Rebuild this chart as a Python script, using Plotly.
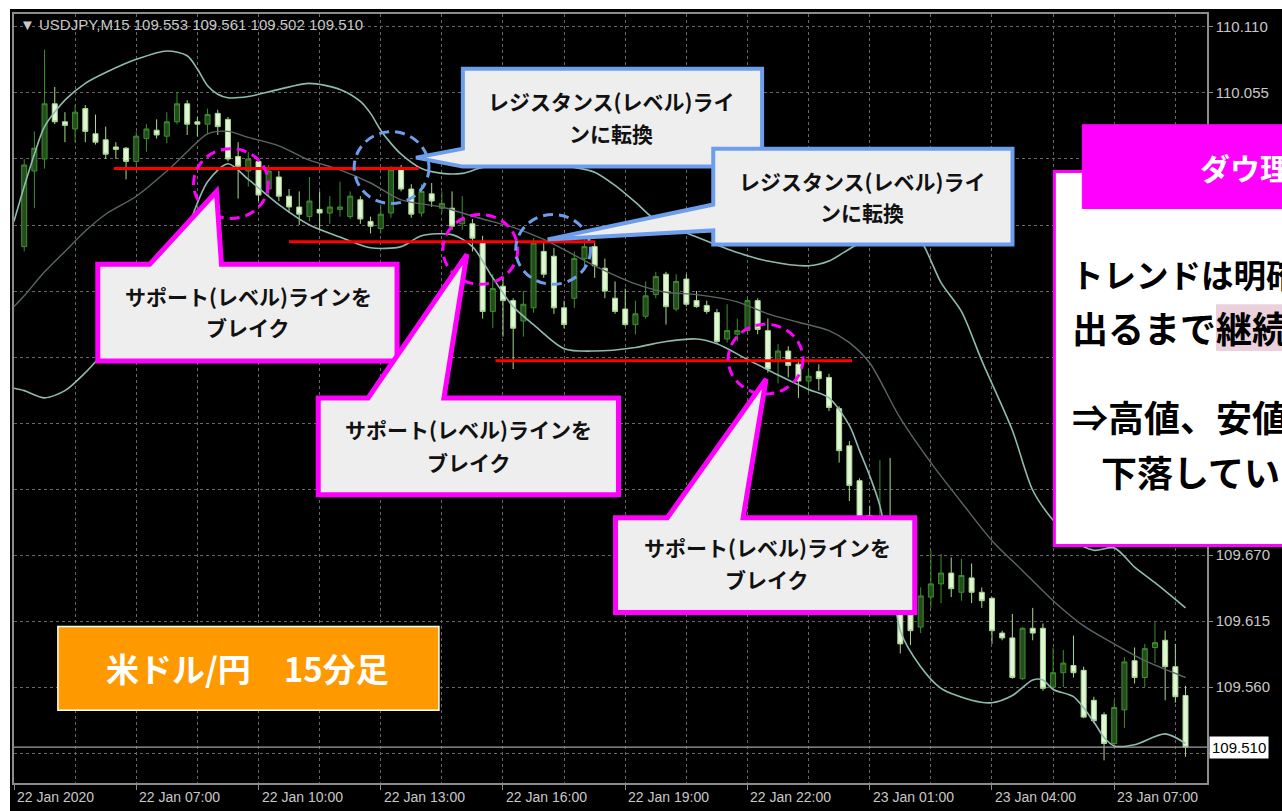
import numpy as np
import pandas as pd
import plotly.graph_objects as go

# ---------------- data ----------------
start = "2020-01-22 04:15"

opens = [109.927, 109.990, 110.000, 110.046, 110.031, 110.025, 110.042, 110.021, 110.016, 110.010,
         110.009, 109.998, 110.017, 110.024, 110.019, 110.031, 110.046, 110.031, 110.029, 110.038,
         110.033, 110.002, 109.990, 109.998, 109.975, 109.985, 109.969, 109.960, 109.952, 109.958,
         109.955, 109.958, 109.952, 109.966, 109.948, 109.942, 109.955, 109.991, 109.975, 109.955,
         109.971, 109.959, 109.959, 109.946, 109.946, 109.931, 109.873, 109.894, 109.882, 109.865,
         109.876, 109.923, 109.919, 109.876, 109.884, 109.917, 109.927, 109.909, 109.884, 109.875,
         109.862, 109.869, 109.887, 109.904, 109.875, 109.900, 109.882, 109.878, 109.872, 109.850,
         109.854, 109.857, 109.882, 109.857, 109.832, 109.840, 109.829, 109.815, 109.823, 109.818,
         109.792, 109.761, 109.732, 109.703, 109.653, 109.670, 109.621, 109.620, 109.610, 109.635,
         109.646, 109.655, 109.639, 109.651, 109.639, 109.634, 109.605, 109.601, 109.567, 109.609,
         109.609, 109.560, 109.572, 109.578, 109.574, 109.549, 109.537, 109.513, 109.541, 109.582,
         109.568, 109.593, 109.599, 109.577, 109.553]
highs = [110.000, 110.023, 110.091, 110.060, 110.039, 110.045, 110.045, 110.037, 110.027, 110.014,
         110.010, 110.023, 110.029, 110.033, 110.039, 110.056, 110.049, 110.035, 110.042, 110.041,
         110.035, 110.014, 110.006, 110.000, 109.995, 109.990, 109.975, 109.973, 109.985, 109.973,
         109.969, 109.981, 109.973, 109.969, 109.952, 109.962, 109.994, 109.995, 109.979, 109.979,
         109.980, 109.973, 109.973, 109.969, 109.950, 109.936, 109.904, 109.902, 109.884, 109.890,
         109.934, 109.931, 109.926, 109.882, 109.923, 109.933, 109.931, 109.917, 109.898, 109.892,
         109.882, 109.898, 109.906, 109.906, 109.904, 109.904, 109.890, 109.882, 109.875, 109.879,
         109.867, 109.884, 109.884, 109.867, 109.846, 109.844, 109.833, 109.825, 109.829, 109.821,
         109.794, 109.765, 109.734, 109.711, 109.749, 109.751, 109.626, 109.624, 109.643, 109.674,
         109.671, 109.668, 109.667, 109.663, 109.643, 109.635, 109.607, 109.621, 109.610, 109.626,
         109.613, 109.593, 109.591, 109.603, 109.577, 109.552, 109.539, 109.549, 109.585, 109.593,
         109.596, 109.614, 109.607, 109.596, 109.561]
lows = [109.923, 109.959, 109.992, 110.029, 110.014, 110.014, 110.014, 110.012, 110.000, 110.000,
        109.983, 109.995, 110.006, 110.017, 110.013, 110.029, 110.020, 110.019, 110.021, 110.020,
        109.998, 109.967, 109.977, 109.965, 109.969, 109.965, 109.955, 109.945, 109.948, 109.941,
        109.946, 109.952, 109.950, 109.946, 109.938, 109.938, 109.951, 109.973, 109.951, 109.952,
        109.960, 109.955, 109.941, 109.941, 109.923, 109.867, 109.859, 109.852, 109.825, 109.852,
        109.872, 109.901, 109.871, 109.859, 109.876, 109.909, 109.901, 109.884, 109.871, 109.861,
        109.854, 109.867, 109.884, 109.862, 109.873, 109.877, 109.876, 109.871, 109.846, 109.847,
        109.848, 109.854, 109.854, 109.822, 109.813, 109.818, 109.801, 109.805, 109.807, 109.790,
        109.747, 109.715, 109.695, 109.653, 109.641, 109.620, 109.588, 109.595, 109.605, 109.626,
        109.630, 109.635, 109.632, 109.630, 109.626, 109.596, 109.599, 109.567, 109.566, 109.599,
        109.557, 109.559, 109.560, 109.568, 109.534, 109.530, 109.499, 109.510, 109.526, 109.563,
        109.560, 109.580, 109.549, 109.547, 109.502]
closes = [109.995, 110.009, 110.046, 110.031, 110.028, 110.039, 110.023, 110.014, 110.004, 110.008,
          109.998, 110.019, 110.025, 110.020, 110.031, 110.046, 110.029, 110.029, 110.037, 110.027,
          110.000, 109.994, 110.000, 109.970, 109.990, 109.969, 109.960, 109.954, 109.965, 109.955,
          109.960, 109.960, 109.969, 109.950, 109.944, 109.954, 109.991, 109.975, 109.954, 109.973,
          109.965, 109.963, 109.944, 109.950, 109.934, 109.873, 109.892, 109.882, 109.859, 109.879,
          109.930, 109.904, 109.876, 109.862, 109.917, 109.927, 109.911, 109.890, 109.873, 109.862,
          109.871, 109.886, 109.902, 109.877, 109.898, 109.879, 109.877, 109.873, 109.848, 109.857,
          109.857, 109.882, 109.858, 109.825, 109.840, 109.828, 109.815, 109.819, 109.817, 109.793,
          109.757, 109.728, 109.699, 109.661, 109.670, 109.624, 109.596, 109.607, 109.636, 109.646,
          109.655, 109.642, 109.653, 109.639, 109.632, 109.607, 109.601, 109.568, 109.609, 109.605,
          109.559, 109.572, 109.580, 109.572, 109.535, 109.532, 109.513, 109.543, 109.581, 109.568,
          109.592, 109.597, 109.577, 109.552, 109.510]

# Bollinger bands, sampled at bar numbers (0 = first bar)
upper_bars = [-1, 0, 1, 2, 4, 6, 8, 11, 14, 16, 17, 18, 19, 20, 22, 25, 28, 31, 33, 34,
              35, 36, 37, 39, 41, 43, 45, 48, 51, 54, 56, 58, 60, 62, 66, 70, 73, 77, 79, 81,
              83, 85, 86, 88, 90, 92, 94, 97, 99, 101, 103, 105, 107, 109, 111, 114]
upper_vals = [109.948, 109.977, 110.004, 110.027, 110.049, 110.063, 110.072, 110.083, 110.090, 110.086,
              110.075, 110.061, 110.054, 110.051, 110.052, 110.058, 110.063, 110.058, 110.048, 110.038,
              110.024, 110.013, 110.004, 109.992, 109.988, 109.988, 109.993, 109.995, 109.996, 109.993,
              109.989, 109.978, 109.964, 109.949, 109.935, 109.922, 109.915, 109.911, 109.915, 109.925,
              109.935, 109.944, 109.946, 109.932, 109.897, 109.873, 109.832, 109.774, 109.724, 109.699,
              109.682, 109.674, 109.676, 109.660, 109.647, 109.626]
middle_bars = [-1, 0, 2, 4, 6, 8, 11, 14, 16, 18, 20, 22, 25, 28, 31, 34, 37, 41, 43, 45,
               48, 51, 54, 56, 60, 63, 66, 70, 73, 76, 79, 81, 83, 86, 89, 92, 95, 98, 101, 104,
               107, 110, 114]
middle_vals = [109.877, 109.886, 109.906, 109.923, 109.940, 109.954, 109.969, 109.990, 110.006, 110.021,
               110.023, 110.018, 110.011, 109.999, 109.991, 109.980, 109.966, 109.960, 109.955, 109.950,
               109.943, 109.933, 109.920, 109.911, 109.896, 109.889, 109.887, 109.881, 109.871, 109.864,
               109.857, 109.847, 109.830, 109.784, 109.747, 109.714, 109.682, 109.657, 109.632, 109.611,
               109.596, 109.582, 109.568]
lower_bars = [-1, 0, 2, 4, 6, 8, 11, 14, 16, 18, 20, 22, 25, 28, 31, 34, 37, 39, 42, 44,
              46, 48, 50, 53, 56, 60, 63, 66, 68, 71, 74, 77, 79, 81, 82, 83, 84, 85, 86, 88,
              90, 93, 95, 97, 99, 100, 101, 103, 105, 106, 107, 109, 112, 114]
lower_vals = [109.809, 109.807, 109.801, 109.807, 109.822, 109.840, 109.861, 109.894, 109.941, 109.981,
              109.996, 109.983, 109.962, 109.945, 109.935, 109.926, 109.927, 109.936, 109.937, 109.927,
              109.901, 109.877, 109.862, 109.842, 109.840, 109.843, 109.848, 109.850, 109.846, 109.833,
              109.820, 109.808, 109.801, 109.778, 109.757, 109.736, 109.711, 109.665, 109.607, 109.577,
              109.559, 109.549, 109.547, 109.553, 109.566, 109.566, 109.558, 109.552, 109.531, 109.518,
              109.511, 109.512, 109.521, 109.513]

# support / resistance levels (red lines)
level_prices = [109.992, 109.931, 109.832]
level_starts = ["2020-01-22 06:27", "2020-01-22 10:45", "2020-01-22 15:49"]
level_ends = ["2020-01-22 13:56", "2020-01-22 18:16", "2020-01-23 00:34"]

price_ticks = [110.110, 110.055, 110.000, 109.945, 109.890, 109.835, 109.780,
               109.725, 109.670, 109.615, 109.560, 109.505]
# labels hidden behind the right-hand panel / current-price box in the reference
price_labels = ["110.110", "110.055", "", "", "", "", "", "", "109.670", "109.615", "109.560", ""]
time_ticks = ["2020-01-22 04:00", "2020-01-22 07:00", "2020-01-22 10:00", "2020-01-22 13:00",
              "2020-01-22 16:00", "2020-01-22 19:00", "2020-01-22 22:00", "2020-01-23 01:00",
              "2020-01-23 04:00", "2020-01-23 07:00"]
time_labels = ["22 Jan 2020", "22 Jan 07:00", "22 Jan 10:00", "22 Jan 13:00", "22 Jan 16:00",
               "22 Jan 19:00", "22 Jan 22:00", "23 Jan 01:00", "23 Jan 04:00", "23 Jan 07:00"]
symbol = "USDJPY,M15"

callout_resist = ["レジスタンス(レベル)ライ", "ンに転換"]
callout_support = ["サポート(レベル)ラインを", "ブレイク"]
pair_label = "米ドル/円　15分足"
panel_title = "ダウ理"
panel_lines = ["トレンドは明確", "出るまで継続", "⇒高値、安値", "下落してい"]

# ---------------- figure geometry ----------------
W, H = 1282, 811
ML, MR, MT, MB = 12, 74, 12, 28
PW, PH = W - ML - MR, H - MT - MB


def px(x):
    return (x - ML) / PW


def py(y):
    return (H - MB - y) / PH


t0 = pd.Timestamp(start)
times = pd.date_range(start, periods=len(opens), freq="15min")


def bar_times(bars):
    return [t0 + pd.Timedelta(minutes=15 * b) for b in bars]


JP = "Noto Sans CJK JP"
LAT = "Liberation Sans, Arial, sans-serif"
GRID = "#666666"
FRAME = "#8c8c8c"
MAG = "#ff00ff"
BLUE = "#6d9eeb"

fig = go.Figure()

fig.add_trace(go.Candlestick(
    x=times, open=opens, high=highs, low=lows, close=closes,
    increasing=dict(line=dict(color="#3f8f30", width=1), fillcolor="#234d1b"),
    decreasing=dict(line=dict(color="#a9d992", width=1), fillcolor="#e2f6d6"),
    whiskerwidth=0, hoverinfo="skip", showlegend=False,
))

band_style = dict(mode="lines", hoverinfo="skip", showlegend=False)
fig.add_trace(go.Scatter(x=bar_times(upper_bars), y=upper_vals,
                         line=dict(color="#8fbab2", width=1.6, shape="spline", smoothing=0.8), **band_style))
fig.add_trace(go.Scatter(x=bar_times(middle_bars), y=middle_vals,
                         line=dict(color="#5b6664", width=1.4, shape="spline", smoothing=0.8), **band_style))
fig.add_trace(go.Scatter(x=bar_times(lower_bars), y=lower_vals,
                         line=dict(color="#8fbab2", width=1.6, shape="spline", smoothing=0.8), **band_style))

shapes = []
# bid line
shapes.append(dict(type="line", xref="paper", yref="y", x0=0, x1=1,
                   y0=closes[-1], y1=closes[-1], line=dict(color="#a0a0a0", width=1.3), layer="above"))
# red level lines
for p, a, b in zip(level_prices, level_starts, level_ends):
    shapes.append(dict(type="line", xref="x", yref="y", x0=a, x1=b, y0=p, y1=p,
                       line=dict(color="#ff0000", width=3), layer="above"))

# dashed circles
circles = [((192, 147, 267, 217), MAG), ((353, 130, 428, 202), BLUE),
           ((442, 213, 517, 283), MAG), ((515, 213, 590, 283), BLUE),
           ((728, 323, 803, 393), MAG)]
for (x0, y0, x1, y1), col in circles:
    shapes.append(dict(type="circle", xref="paper", yref="paper",
                       x0=px(x0), x1=px(x1), y0=py(y1), y1=py(y0),
                       line=dict(color=col, width=3, dash="10px,6px"), layer="above"))


def path(points):
    s = "M " + " L ".join(f"{px(x):.5f},{py(y):.5f}" for x, y in points) + " Z"
    return s


callouts = [
    ([(462, 67), (762, 67), (762, 165), (462, 165), (415, 156), (462, 147)], BLUE, 4),
    ([(713, 147), (1013, 147), (1013, 243), (713, 243), (713, 229), (547, 238), (713, 203)], BLUE, 4),
    ([(96, 263), (148, 263), (215, 190), (220, 263), (396, 263), (396, 360), (96, 360)], MAG, 5),
    ([(317, 397), (367, 397), (466, 253), (443, 397), (618, 397), (618, 494), (317, 494)], MAG, 5),
    ([(615, 517), (667, 517), (766, 378), (743, 517), (915, 517), (915, 612), (615, 612)], MAG, 5),
]
for pts, col, lw in callouts:
    shapes.append(dict(type="path", xref="paper", yref="paper", path=path(pts),
                       fillcolor="#eeeeee", line=dict(color=col, width=lw), layer="above"))

# orange label box
shapes.append(dict(type="rect", xref="paper", yref="paper", x0=px(56), x1=px(438), y0=py(710), y1=py(626),
                   fillcolor="#ff9900", line=dict(color="white", width=1.5), layer="above"))
# right panel
shapes.append(dict(type="rect", xref="paper", yref="paper", x0=px(1055), x1=px(1300), y0=py(545), y1=py(170),
                   fillcolor="white", line=dict(color=MAG, width=3), layer="above"))
shapes.append(dict(type="rect", xref="paper", yref="paper", x0=px(1083), x1=px(1300), y0=py(207), y1=py(123),
                   fillcolor=MAG, line=dict(color=MAG, width=1), layer="above"))
shapes.append(dict(type="rect", xref="paper", yref="paper", x0=px(1217), x1=px(1300), y0=py(350), y1=py(303),
                   fillcolor="#ead1dc", line=dict(width=0), layer="above"))
# white outer strips
shapes.append(dict(type="rect", xref="paper", yref="paper", x0=px(-5), x1=px(8), y0=py(820), y1=py(-5),
                   fillcolor="white", line=dict(width=0), layer="above"))
shapes.append(dict(type="rect", xref="paper", yref="paper", x0=px(-5), x1=px(1290), y0=py(7), y1=py(-5),
                   fillcolor="white", line=dict(width=0), layer="above"))

ann = []


def text(x, y, s, size, color="#111111", anchor="center", family=JP, bold=True):
    ann.append(dict(xref="paper", yref="paper", x=px(x), y=py(y), text=f"<b>{s}</b>" if bold else s,
                    showarrow=False, xanchor=anchor, yanchor="middle",
                    font=dict(family=family, size=size, color=color)))


text(611, 99, callout_resist[0], 21)
text(611, 131, callout_resist[1], 21)
text(862, 179, callout_resist[0], 21)
text(862, 211, callout_resist[1], 21)
text(247, 295, callout_support[0], 21)
text(247, 326, callout_support[1], 21)
text(468, 428, callout_support[0], 21)
text(468, 461, callout_support[1], 21)
text(767, 546, callout_support[0], 21)
text(767, 578, callout_support[1], 21)
text(246, 668, pair_label, 33, color="white")
text(1199, 165, panel_title, 30, color="white", anchor="left")
text(1070, 272, panel_lines[0], 32.5, color="black", anchor="left")
text(1071, 326, panel_lines[1], 36, color="black", anchor="left")
text(1071, 415, panel_lines[2], 36, color="black", anchor="left")
text(1100, 470, panel_lines[3], 36, color="black", anchor="left")

# chart header
text(16, 23, "▼ " + f"{symbol} {opens[-1]:.3f} {highs[-1]:.3f} {lows[-1]:.3f} {closes[-1]:.3f}",
     15, color="#c8c8c8", anchor="left", family=LAT, bold=False)

# time axis labels (left aligned at tick like MT4)
for t, lab in zip(time_ticks, time_labels):
    ann.append(dict(xref="x", yref="paper", x=t, y=0, yshift=-14, xshift=1, text=lab,
                    showarrow=False, xanchor="left", yanchor="middle",
                    font=dict(family=LAT, size=14, color="#c8c8c8")))

# current price label
ann.append(dict(xref="paper", yref="y", x=1, xshift=2, y=closes[-1], text=f"{closes[-1]:.3f}",
                showarrow=False, xanchor="left", yanchor="middle", bgcolor="white",
                borderpad=2, font=dict(family=LAT, size=15, color="black")))

fig.update_layout(
    width=W, height=H, margin=dict(l=ML, r=MR, t=MT, b=MB),
    paper_bgcolor="black", plot_bgcolor="black", showlegend=False,
    shapes=shapes, annotations=ann, hovermode=False,
    xaxis=dict(type="date", range=["2020-01-22 04:00", "2020-01-23 09:16:36"],
               rangeslider=dict(visible=False),
               tickvals=time_ticks, showticklabels=False, ticks="outside", ticklen=5,
               tickcolor=FRAME, showgrid=True, gridcolor=GRID, griddash="3px,3px", gridwidth=1,
               minor=dict(dtick=5400000, tick0="2020-01-22 04:00", showgrid=True,
                          gridcolor=GRID, griddash="3px,3px", gridwidth=1),
               showline=True, linecolor=FRAME, linewidth=1.5, mirror=True, zeroline=False),
    yaxis=dict(side="right", range=[109.4801, 110.1208], tickvals=price_ticks,
               ticktext=price_labels, ticks="outside", ticklen=4,
               tickcolor=FRAME, tickfont=dict(family=LAT, size=15, color="#c8c8c8"),
               showgrid=True, gridcolor=GRID, griddash="3px,3px", gridwidth=1,
               showline=True, linecolor=FRAME, linewidth=1.5, mirror=True, zeroline=False),
)

fig.write_html("out.html", config={"displayModeBar": False},
               post_script="document.body.style.margin='0';document.body.style.overflow='hidden';")
